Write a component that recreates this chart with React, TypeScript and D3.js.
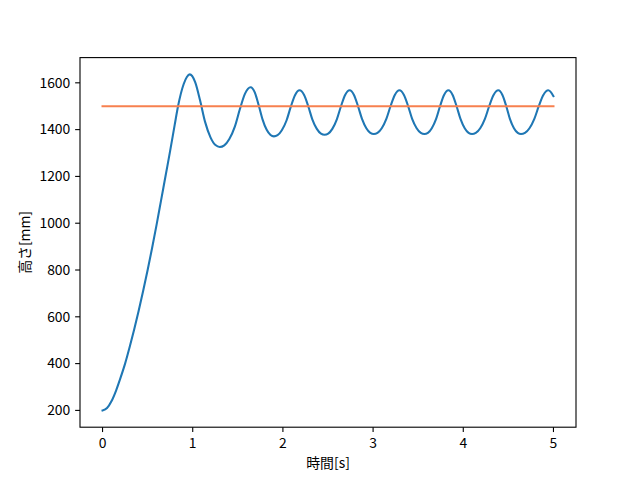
import React from "react";
import * as d3 from "d3";

const timeS: number[] = [
  0, 0.05, 0.1, 0.15, 0.2, 0.25, 0.3, 0.35, 0.4, 0.45, 0.5, 0.55, 0.6, 0.65, 0.7, 0.75, 0.8, 0.837, 0.9, 0.935,
  0.967, 1.027, 1.082, 1.137, 1.197, 1.252,
  1.3, 1.35, 1.406, 1.468, 1.524, 1.58,
  1.642, 1.688, 1.731, 1.774, 1.82, 1.863,
  1.9, 1.941, 1.988, 2.04, 2.087, 2.134,
  2.185, 2.235, 2.281, 2.326, 2.376, 2.422,
  2.462, 2.502, 2.548, 2.598, 2.644, 2.69,
  2.74, 2.788, 2.832, 2.877, 2.925, 2.969,
  3.008, 3.049, 3.096, 3.147, 3.194, 3.241,
  3.292, 3.342, 3.388, 3.433, 3.483, 3.529,
  3.569, 3.608, 3.651, 3.699, 3.743, 3.787,
  3.835, 3.882, 3.925, 3.969, 4.016, 4.059,
  4.097, 4.139, 4.188, 4.24, 4.288, 4.336,
  4.389, 4.434, 4.476, 4.517, 4.562, 4.604,
  4.64, 4.684, 4.734, 4.788, 4.838, 4.888,
  4.943, 5.0,
];
const heightMm: number[] = [
  200, 210, 240, 285, 340, 400, 470, 545, 625, 710, 800, 895, 995, 1100, 1205, 1310, 1420, 1500, 1595, 1625,
  1636, 1603, 1524, 1433, 1367, 1334,
  1326, 1333, 1360, 1414, 1489, 1554,
  1581, 1559, 1505, 1444, 1399, 1377,
  1371, 1376, 1397, 1439, 1497, 1547,
  1568, 1548, 1500, 1444, 1403, 1383,
  1378, 1383, 1403, 1444, 1500, 1548,
  1568, 1548, 1501, 1446, 1406, 1386,
  1381, 1386, 1406, 1446, 1501, 1548,
  1568, 1548, 1501, 1446, 1406, 1386,
  1381, 1386, 1406, 1446, 1501, 1548,
  1568, 1548, 1501, 1446, 1406, 1386,
  1381, 1386, 1406, 1446, 1501, 1548,
  1568, 1548, 1501, 1446, 1406, 1386,
  1381, 1386, 1406, 1446, 1501, 1548,
  1568, 1543,
];
const targetTime: number[] = [0, 5];
const targetHeight: number[] = [1500, 1500];

const xTicks: number[] = [0, 1, 2, 3, 4, 5];
const yTicks: number[] = [200, 400, 600, 800, 1000, 1200, 1400, 1600];
const xLabel = "時間[s]";
const yLabel = "高さ[mm]";

const W = 640;
const H = 480;
const L = 80;
const R = 576;
const T = 57.6;
const B = 427.2;
const FONT = "'Noto Sans CJK JP', 'Noto Sans', sans-serif";

export default function App() {
  const xMin = d3.min(timeS)!;
  const xMax = d3.max(timeS)!;
  const yMin = d3.min(heightMm)!;
  const yMax = d3.max(heightMm)!;
  const xPad = (xMax - xMin) * 0.05;
  const yPad = (yMax - yMin) * 0.05;
  const x = d3.scaleLinear().domain([xMin - xPad, xMax + xPad]).range([L, R]);
  const y = d3.scaleLinear().domain([yMin - yPad, yMax + yPad]).range([B, T]);

  const line = d3
    .line<[number, number]>()
    .x((d) => x(d[0]))
    .y((d) => y(d[1]))
    .curve(d3.curveMonotoneX);

  const mainPts = timeS.map((t, i) => [t, heightMm[i]] as [number, number]);
  const targetPts = targetTime.map((t, i) => [t, targetHeight[i]] as [number, number]);
  const tick = 4.86;
  const pad = 4.86;

  return (
    <svg width={W} height={H} style={{ display: "block", position: "absolute", left: 0, top: 0 }}>
      <rect x={0} y={0} width={W} height={H} fill="#fff" />
      <defs>
        <clipPath id="plotclip">
          <rect x={L} y={T} width={R - L} height={B - T} />
        </clipPath>
      </defs>
      <g clipPath="url(#plotclip)">
        <path d={line(mainPts)!} fill="none" stroke="#1f77b4" strokeWidth={2.08} strokeLinecap="square" strokeLinejoin="round" />
        <path d={line(targetPts)!} fill="none" stroke="#f7804f" strokeWidth={2.08} strokeLinecap="square" />
      </g>
      <rect x={L} y={T} width={R - L} height={B - T} fill="none" stroke="#000" strokeWidth={1.1} />
      {xTicks.map((t) => (
        <g key={"x" + t}>
          <line x1={x(t)} x2={x(t)} y1={B} y2={B + tick} stroke="#000" strokeWidth={1.1} />
          <text
            x={x(t)}
            y={B + tick + pad}
            dy="0.8em"
            textAnchor="middle"
            fontFamily={FONT}
            fontSize={13.9}
            fill="#000"
          >
            {t}
          </text>
        </g>
      ))}
      {yTicks.map((v) => (
        <g key={"y" + v}>
          <line x1={L - tick} x2={L} y1={y(v)} y2={y(v)} stroke="#000" strokeWidth={1.1} />
          <text
            x={L - tick - pad}
            y={y(v)}
            dy="0.35em"
            textAnchor="end"
            fontFamily={FONT}
            fontSize={13.9}
            fill="#000"
          >
            {v}
          </text>
        </g>
      ))}
      <text x={(L + R) / 2} y={468} textAnchor="middle" fontFamily={FONT} fontSize={13.9} fill="#000">
        {xLabel}
      </text>
      <text
        transform={`translate(${30},${(T + B) / 2}) rotate(-90)`}
        textAnchor="middle"
        fontFamily={FONT}
        fontSize={13.9}
        fill="#000"
      >
        {yLabel}
      </text>
    </svg>
  );
}
